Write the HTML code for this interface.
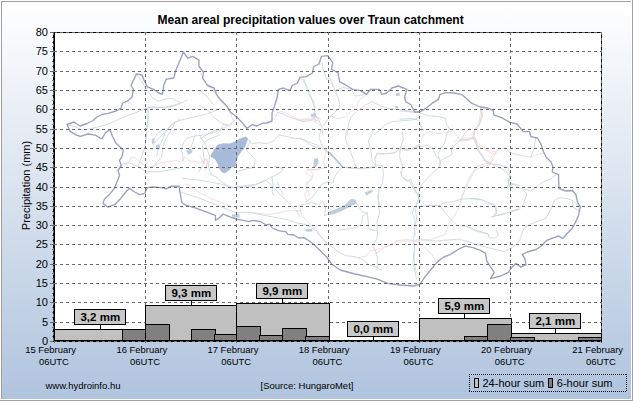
<!DOCTYPE html>
<html lang="en"><head><meta charset="utf-8"><title>Mean areal precipitation values over Traun catchment</title>
<style>
html,body{margin:0;padding:0;background:#fff;}
body{width:633px;height:401px;overflow:hidden;position:relative;font-family:"Liberation Sans",sans-serif;}
svg{position:absolute;left:0;top:0;display:block;}
text{font-family:"Liberation Sans",sans-serif;fill:#000;}
.t{font-size:12px;font-weight:bold;}
.yl{font-size:11px;text-anchor:end;}
.xl{font-size:9.45px;}
.ft{font-size:9.5px;}
.lg{font-size:11px;}
.vl{font-size:11.5px;font-weight:bold;text-anchor:middle;}
.ax{font-size:11px;text-anchor:middle;}
</style></head><body>
<svg width="633" height="401" viewBox="0 0 633 401">
<defs><linearGradient id="bg" x1="0" y1="0" x2="0" y2="1"><stop offset="0" stop-color="#ffffff"/><stop offset="1" stop-color="#b0c4de"/></linearGradient></defs>
<rect x="0" y="0" width="633" height="401" fill="#ffffff"/>
<rect x="2" y="2" width="629" height="397" fill="url(#bg)"/>
<rect x="1" y="1" width="630" height="1" fill="#a0a0a0"/>
<rect x="1" y="1" width="1" height="398" fill="#a0a0a0"/>
<rect x="631" y="0" width="1" height="400" fill="#ffffff"/>
<rect x="0" y="399" width="632" height="1" fill="#ffffff"/>
<rect x="632" y="0" width="1" height="401" fill="#a0a0a0"/>
<rect x="0" y="400" width="633" height="1" fill="#a0a0a0"/>
<rect x="54" y="32" width="548" height="309" fill="#ffffff"/>
<g id="map" fill="none" stroke-linejoin="round" stroke-linecap="round">
<path d="M120.9 166.4 L124.6 165.4 L128.4 163.5 L131.3 156.9 L135.1 157.8 L137.9 160.7 L143.6 164.5 L149.3 167.3 L155.0 165.4 L160.7 162.6 L168.2 161.6 L175.8 160.7 L181.5 161.6 L185.3 156.9 L189.1 160.7 L194.8 161.6 L200.5 162.6 L206.2 158.8 L208.1 164.5 L204.3 170.1 M200.9 73.3 L203.8 80.9 L208.5 86.5 L213.3 89.4 L217.1 97.0 L222.7 103.6 L228.4 109.3 L231.3 115.0 L233.2 120.7 L230.3 126.4 L222.7 124.5 L220.9 130.1 L217.1 133.9 M274.9 109.7 L281.5 111.2 L288.2 114.0 L294.8 117.8 L302.4 120.7 L310.0 118.8 L317.5 120.7 L320.0 121.6 M320.0 168.3 L313.7 170.2 L308.1 169.3 L306.2 173.1 L311.8 176.9 L308.1 182.6 L306.2 188.2 L310.0 195.1 M200.0 156.0 L203.8 163.6 L207.6 159.8 L205.7 169.3 M300.0 119.7 L307.6 118.8 L317.1 122.6 L320.9 126.4 M330.3 115.9 L337.9 118.8 L345.5 116.9 L351.2 111.2 L356.9 107.4 L358.8 100.8 L364.5 96.0 L370.1 91.3 L375.8 89.4 M374.9 158.4 L376.8 154.1 L385.3 154.1 L394.8 153.1 L400.5 148.4 L408.1 149.9 L413.7 149.0 L420.0 146.1 M342.7 167.3 L360.7 169.1 L373.9 167.3 M326.5 149.0 L325.6 154.6 L323.7 161.3 L324.6 167.9 L317.1 169.8 L307.6 168.9 L313.3 173.6 L311.4 180.2 L306.6 182.1 L307.6 190.7 L304.7 194.5 L306.6 201.1 M300.0 208.3 L301.9 215.9 L307.6 221.5 L315.2 229.1 L322.7 238.6 L328.4 244.3 M358.8 257.6 L366.4 255.7 L370.1 250.9 L375.8 250.0 L383.4 247.1 L391.0 245.2 L396.7 240.5 L406.2 239.5 L413.7 240.5 L420.0 241.4 M400.0 148.8 L407.6 150.7 L415.2 146.9 L420.9 144.0 L422.7 135.5 L428.4 131.7 L437.9 133.6 L447.4 132.7 L453.1 130.8 L456.9 135.5 L460.7 141.2 L468.2 140.2 L473.0 138.3 L473.0 130.8 L477.7 126.0 L479.6 118.4 L480.6 110.9 L484.4 109.0 M475.8 140.2 L481.5 145.9 L489.1 150.7 L496.7 151.6 L503.3 147.8 L510.0 152.6 L520.0 155.4 M496.7 151.6 L492.9 158.2 L489.1 165.1 M492.9 160.0 L489.1 164.7 L479.6 167.6 L473.9 171.4 L470.1 179.0 L466.4 186.5 L463.5 194.1 L460.7 200.8 L458.8 207.4 L455.0 215.0 L450.2 220.7 L447.4 228.2 L444.5 235.1 M480.3 107.6 L481.5 115.2 L479.0 125.3 L474.0 130.3 L472.7 137.9 L476.5 145.5 L485.3 149.3 L492.9 154.3 L498.0 149.3 L505.6 148.0 L510.6 153.1 L520.7 155.6 L530.8 156.9 L538.4 154.3 L543.5 153.1 M455.0 141.7 L465.1 137.9 L472.7 137.9 M492.9 154.3 L487.9 163.2 L477.8 165.7 L470.2 175.8 L465.1 188.5 L460.1 200.1 M250.8 212.6 L269.8 214.5 L288.7 210.7 L300.1 210.7 M186.4 184.1 L197.7 191.7 L212.9 199.3 L231.9 206.9 M444.4 234.9 L431.9 239.1 L416.7 241.0 L397.7 241.0 L382.6 248.6 L375.0 254.3 M416.7 241.0 L431.9 254.3 L435.7 261.8" stroke="#f5dde0" stroke-width="1"/>
<path d="M68.5 125.0 L75.2 126.9 L82.7 130.3 L90.3 128.8 L97.9 126.9 L105.5 125.0 L113.1 122.1 L120.7 118.3 L128.2 115.5 L135.8 112.7 L143.4 109.4 L149.1 107.9 L158.6 107.9 L166.2 107.0 L173.7 105.1 L180.0 103.2 M137.7 75.7 L141.5 81.4 L145.3 87.1 L149.1 92.7 L152.9 98.4 L158.6 101.3 L166.2 98.4 L171.8 98.4 L177.5 101.3 L180.0 102.2 M148.2 108.9 L148.2 113.6 L147.2 123.1 L146.3 132.6 L145.3 145.1 M180.0 119.3 L173.7 123.1 L168.1 128.8 L162.4 134.5 L156.7 140.1 L152.9 145.1 M145.5 108.5 L153.1 106.6 L162.6 107.6 L172.0 106.6 L179.6 103.8 L187.2 100.0 M147.4 108.5 L148.3 117.1 L147.4 124.6 L146.4 134.1 L145.5 143.6 L143.6 151.2 L140.8 158.8 L137.9 166.4 M220.0 108.5 L213.7 111.4 L206.2 114.2 L198.6 116.1 L189.1 118.0 L181.5 119.9 L173.9 122.7 L168.2 127.5 L164.5 134.1 L161.6 141.7 L158.8 147.4 L156.9 155.0 M164.5 128.4 L158.8 132.2 L155.0 137.0 L153.1 140.8 M174.9 122.7 L172.0 128.4 L168.2 135.1 L164.5 141.7 L162.6 149.3 L161.6 156.9 L156.9 162.6 L153.1 167.3 M220.0 130.3 L211.8 133.2 L202.4 135.1 L194.8 136.0 L187.2 137.9 L183.4 142.7 L181.5 149.3 L182.5 155.0 L183.4 160.7 M194.8 136.0 L192.9 141.7 L191.0 147.4 M220.0 135.1 L211.8 137.9 L206.2 140.8 L202.4 145.5 L203.3 153.1 L204.3 160.7 L202.4 166.4 L198.6 172.0 M115.2 172.0 L119.0 168.2 L120.9 164.5 L128.4 162.6 L137.9 166.4 L145.5 171.1 L156.9 172.0 L168.2 170.1 L179.6 168.2 M275.8 116.9 L277.7 112.1 L283.4 114.0 L289.1 116.9 L294.8 118.8 L302.4 121.6 L310.0 120.7 L315.6 116.9 L320.0 118.8 M303.3 79.9 L306.2 86.5 L309.0 94.1 L313.7 101.7 L314.7 109.3 L313.7 115.0 L315.6 120.7 M200.0 90.3 L205.7 95.1 L209.5 99.8 L213.3 104.5 M200.0 105.5 L207.6 110.2 L213.3 116.9 L220.9 122.6 L228.4 125.4 M247.4 139.0 L252.1 143.7 L258.8 142.7 L266.4 143.7 L273.9 140.9 L278.7 135.2 L285.3 136.1 L292.9 138.0 L302.4 139.0 L310.0 144.6 L315.6 147.5 L320.0 148.4 M200.0 139.0 L207.6 134.2 L215.2 130.4 L224.6 127.6 L232.2 122.8 L235.1 120.0 M250.2 140.9 L246.4 150.3 L251.2 155.1 L255.0 159.8 L254.0 167.4 L245.5 169.3 L237.9 171.2 M216.1 176.9 L222.7 182.6 L230.3 188.2 L237.9 186.4 L247.4 185.4 L256.9 184.5 L264.5 180.7 L272.0 176.9 L279.6 173.1 L283.4 169.3 L279.6 167.4 L273.9 166.4 M272.0 176.9 L273.0 184.5 L272.0 192.0 L273.9 195.1 M277.7 182.6 L279.6 188.2 L283.4 195.1 M200.0 136.1 L205.7 144.6 L209.5 156.0 L208.5 167.4 L211.4 175.0 L216.1 176.9 M303.8 79.0 L307.6 88.4 L311.4 97.9 L314.2 107.4 L315.2 115.0 L319.0 120.7 L321.8 126.4 L322.7 135.1 M321.8 61.9 L323.7 71.4 L326.5 79.0 L330.3 79.0 L335.1 90.3 L338.9 99.8 L339.8 107.4 L334.1 113.1 L328.4 118.8 L323.7 125.4 M335.1 90.3 L343.6 87.5 L351.2 89.4 L355.0 96.0 L362.6 95.1 L365.4 92.2 M347.4 135.1 L348.3 124.5 L351.2 116.9 L356.9 111.2 L364.5 105.5 L372.0 101.7 L379.6 105.5 L387.2 108.3 L394.8 109.3 L404.3 110.2 L413.7 112.1 L420.0 111.2 M373.9 135.1 L379.6 130.1 L385.3 124.5 L392.9 121.6 L402.4 120.7 L413.7 119.7 L420.0 116.9 M320.9 130.0 L319.0 137.6 L321.8 145.2 L326.5 150.9 M300.0 138.5 L307.6 141.4 L317.1 145.2 L326.5 150.9 L332.2 156.5 L337.9 162.2 L342.7 167.0 L349.3 167.9 L360.7 168.5 L372.0 167.0 L377.7 165.1 L382.5 166.0 L383.4 173.6 L382.5 183.1 L378.7 190.7 L378.1 198.2 L379.6 205.1 M346.4 130.0 L345.5 139.5 L349.3 149.0 L353.1 158.4 L355.9 167.0 M373.9 130.0 L368.2 141.4 L371.1 150.9 L372.0 160.3 L375.8 166.0 M375.8 165.1 L374.9 158.4 L376.8 153.7 L385.3 153.7 L394.8 152.7 L400.5 148.0 L408.1 149.0 L413.7 148.0 L420.0 145.2 M402.4 131.9 L403.3 139.5 L400.5 147.1 L399.5 156.5 L402.4 166.0 L401.4 175.5 L406.2 181.2 L410.9 179.3 L413.7 186.9 L417.5 194.5 L420.0 200.1 M342.7 167.0 L337.9 171.7 L334.1 177.4 L333.2 183.1 L326.5 182.1 L320.9 185.0 L317.1 190.7 L311.4 198.2 L305.7 202.0 M377.7 195.0 L378.7 204.5 L379.6 214.0 L376.8 221.5 L377.7 231.0 L376.8 238.6 L373.0 245.2 L375.8 251.9 L377.7 259.5 L376.8 270.1 M356.5 203.5 L362.6 212.1 L367.3 213.0 L368.2 221.5 L369.2 229.1 L376.8 231.0 M337.9 230.1 L347.4 229.1 L356.9 227.2 L361.6 223.4 L362.6 215.9 L367.3 213.0 M328.4 214.0 L324.6 215.9 L325.6 206.4 L322.7 201.6 L319.0 204.5 L311.4 202.6 L300.0 205.4 M300.0 223.4 L307.6 225.3 L315.2 230.1 L320.9 236.7 L326.5 243.3 L334.1 248.1 L337.9 251.9 L345.5 255.7 L355.0 256.6 L362.6 259.5 L368.2 264.2 L375.8 267.0 L381.5 270.1 M417.5 200.7 L415.6 210.2 L416.6 219.6 L414.7 229.1 L413.7 238.6 L414.7 248.1 L413.7 257.6 L415.6 270.1 M400.0 110.9 L409.5 111.8 L419.0 112.7 L428.4 115.6 L437.9 116.5 L445.5 118.4 L446.4 124.1 L449.3 128.9 M400.0 119.4 L411.4 118.4 L419.0 120.3 L420.9 126.0 L423.7 130.8 M449.3 128.9 L446.4 135.5 L444.5 143.1 L440.8 148.8 L437.9 154.5 L440.8 165.1 M470.1 127.9 L464.5 133.6 L460.7 140.2 L455.0 145.0 L451.2 148.8 L452.1 154.5 L446.4 157.3 L441.7 160.1 M481.5 109.0 L482.5 116.5 L479.6 124.1 L474.9 129.8 L473.9 137.4 L475.8 143.1 L477.7 150.7 L483.4 158.2 L489.1 163.9 M460.7 140.2 L468.2 139.3 L473.9 137.4 M419.0 146.9 L426.5 145.0 L433.2 148.8 L436.0 156.4 L439.8 159.2 M440.8 160.0 L438.9 167.6 L432.2 173.3 L426.5 179.0 L421.8 184.6 L419.9 189.4 L418.0 195.1 L419.0 201.7 L414.2 207.4 L412.3 213.1 L415.2 220.7 L414.2 228.2 L415.2 235.1 M400.0 171.4 L403.8 179.0 L409.5 180.9 L413.3 188.4 L417.1 194.1 M419.0 206.4 L428.4 205.5 L439.8 205.5 L443.6 202.7 L453.1 201.7 L462.6 198.9 L472.0 198.9 L481.5 199.8 L489.1 202.7 L495.7 205.5 L496.7 211.2 L494.8 214.0 M439.8 205.5 L445.5 213.1 L451.2 219.7 L456.9 225.4 L466.4 226.4 L475.8 230.1 L485.3 233.0 L489.1 235.1 M491.0 216.9 L498.6 215.0 L506.2 213.1 L513.7 211.2 L520.0 209.3 M483.4 160.0 L489.1 163.8 L498.6 164.7 L508.1 167.6 L510.0 175.2 L508.1 184.6 L507.1 188.4 L513.7 183.7 L520.0 185.6 M470.0 198.5 L477.6 198.5 L483.3 200.4 L487.1 204.2 L493.7 204.2 L495.6 209.0 L496.5 213.7 L492.7 216.5 L502.2 214.6 L509.8 211.8 L517.4 209.0 L523.1 205.2 L525.0 199.5 L526.9 193.8 L523.1 190.0 M470.0 227.9 L475.7 230.8 L481.4 232.7 L488.0 233.6 L489.0 237.4 L494.6 238.3 L498.4 235.5 L496.5 230.8 M470.0 242.1 L477.6 245.0 L485.2 246.9 L492.7 248.8 L500.3 250.7 L504.1 251.6 L509.8 248.8 L515.5 245.0 L520.2 239.3 L522.1 232.7 L524.0 227.9 L530.7 224.1 L538.2 221.3 L545.8 218.4 L549.6 211.8 L552.5 205.2 L554.4 200.4 L559.1 197.6 L566.7 198.5 L572.4 200.4 L578.1 205.2 L580.0 210.9 M572.4 200.4 L573.3 207.1 L579.0 210.9 M475.2 137.9 L479.0 150.6 L485.3 160.7 L495.4 165.7 L505.6 170.8 L509.3 175.8 L508.1 185.9 L511.9 183.4 L520.7 188.5 L530.8 191.0 L540.9 183.4 L551.1 178.4 L556.1 174.6 M535.9 137.9 L533.4 150.6 L530.8 156.9 M178.8 191.7 L197.7 197.4 L216.7 205.0 L235.7 212.6 L250.8 212.6 L269.8 216.4 L288.7 220.1 L300.1 223.9 M235.7 187.9 L250.8 186.0 L266.0 180.3 L273.6 187.9 L285.0 199.3 L296.3 210.7 L300.1 216.4 M182.6 178.4 L201.5 180.3 L220.5 184.1 L235.7 187.9 M414.8 244.8 L412.9 263.7 L416.7 278.9 M416.7 239.1 L435.7 241.0 L458.4 239.1 L469.8 242.1" stroke="#c9d4dc" stroke-width="0.85"/>
<path d="M328.4 151.8 L333.2 156.5 L337.9 161.8 L342.7 167.0" stroke="#b4bfd4" stroke-width="1.6"/>
<path d="M151.6 138.9 L154.0 137.9 L154.6 142.7 L152.1 144.0 Z M155.9 145.5 L159.1 144.0 L160.3 148.3 L156.9 149.7 Z M186.3 150.2 L191.0 148.3 L192.9 152.1 L188.2 155.0 Z M310.9 114.0 L315.6 113.1 L316.6 116.9 L311.8 117.3 Z M313.7 158.9 L317.5 157.9 L318.5 160.8 L316.6 166.4 L313.4 166.4 Z M395.7 93.2 L399.5 92.2 L400.1 95.6 L396.3 96.0 Z M395.2 106.1 L398.2 106.1 L398.2 108.3 L395.4 108.3 Z M310.4 114.0 L315.2 113.5 L316.1 116.5 L311.4 116.9 Z M314.2 159.4 L318.0 158.4 L318.6 162.2 L316.1 167.0 L313.3 167.0 Z M364.5 192.6 L372.0 189.7 L373.0 191.6 L366.4 195.4 Z M328.4 212.1 L337.9 208.3 L345.5 204.5 L351.2 198.8 L355.9 199.7 L356.5 203.5 L349.3 207.3 L341.7 211.1 L334.1 214.0 L328.4 214.9 Z M305.7 229.1 L312.3 229.1 L312.3 231.4 L305.7 231.4 Z M231.9 214.5 L239.5 213.7 L239.5 217.5 L232.6 218.2 Z" fill="#bfcde3" stroke="none"/>
<path d="M67.0 124.5 L74.0 122.0 L80.0 126.0 L87.0 123.5 L93.0 120.5 L97.0 117.0 L102.0 114.5 L108.0 113.3 L116.0 111.0 L121.0 108.0 L122.7 103.0 L128.0 100.7 L132.0 97.0 L133.4 89.3 L131.0 85.5 L133.4 80.4 L136.4 74.0 L142.0 75.0 L144.7 81.7 L147.3 86.8 L153.6 89.3 L158.6 93.0 L162.4 94.3 L163.7 85.5 L166.2 79.2 L173.8 78.0 L175.8 70.3 L179.0 62.7 L183.4 52.0 L187.7 58.2 L192.8 56.4 L199.0 60.2 L199.0 66.5 L203.5 72.0 L202.6 78.0 L207.6 85.5 L214.0 88.0 L216.5 94.3 L220.3 99.4 L226.6 105.7 L230.4 112.0 L236.7 117.0 L241.8 122.2 L246.8 128.5 L252.0 124.7 L257.0 126.0 L262.0 123.4 L267.0 123.0 L272.0 121.0 L272.0 113.3 L274.6 105.7 L277.2 97.0 L278.4 89.3 L283.5 88.0 L289.8 90.6 L292.3 85.5 L297.4 83.0 L300.0 77.4 L306.2 76.7 L312.5 73.0 L313.8 66.5 L319.0 64.0 L321.4 56.4 L327.7 55.7 L332.8 62.7 L331.5 69.0 L338.0 72.9 L339.6 81.7 L346.4 85.5 L352.7 89.3 L360.3 90.6 L366.6 94.3 L370.4 89.3 L379.2 89.3 L381.8 94.3 L386.8 93.0 L392.0 88.0 L398.2 86.0 L407.0 89.3 L404.5 97.0 L405.8 102.0 L410.8 104.5 L414.6 112.0 L419.7 112.0 L426.0 108.3 L432.3 103.2 L438.6 99.4 L440.0 94.3 L446.2 92.6 L453.8 93.0 L461.4 94.3 L467.7 99.4 L471.5 103.2 L480.3 107.0 L488.0 108.0 L493.0 110.5 L494.2 115.2 L501.8 117.7 L509.3 122.2 L517.0 124.0 L523.2 131.6 L529.6 131.6 L530.8 136.7 L537.2 138.0 L541.0 144.2 L543.5 151.8 L546.0 157.0 L551.0 162.0 L553.0 167.0 L552.3 172.0 L558.6 174.6 L558.6 181.0 L559.0 188.5 L566.0 191.0 L572.5 190.5 L576.0 195.0 L577.8 202.8 L580.3 206.5 L578.5 215.4 L575.2 223.0 L571.4 229.3 L566.4 234.3 L562.6 238.6 L558.8 236.0 L553.8 237.6 L546.2 240.7 L541.0 246.2 L536.0 249.5 L527.2 252.0 L522.2 254.6 L524.7 258.4 L526.0 264.7 L521.0 267.2 L515.8 263.4 L512.0 267.2 L508.3 272.3 L500.7 276.0 L490.6 278.6 L494.3 272.3 L490.6 267.2 L486.8 261.0 L485.5 253.3 L480.4 250.3 L473.0 247.7 L465.3 246.2 L460.2 248.3 L450.0 254.6 L443.9 257.0 L437.5 261.6 L431.2 269.2 L425.0 276.8 L419.8 284.3 L413.5 286.0 L401.0 285.0 L388.2 283.6 L378.0 279.3 L368.0 276.8 L353.0 273.5 L340.2 270.0 L331.5 264.0 L326.7 257.0 L320.3 250.8 L314.0 244.5 L309.0 240.7 L304.0 237.6 L299.0 238.0 L293.8 235.0 L287.5 234.3 L286.2 231.8 L278.6 230.6 L272.3 228.0 L269.8 224.2 L266.0 225.0 L261.0 221.7 L253.4 220.4 L248.3 221.7 L243.3 220.4 L235.7 219.2 L229.3 216.7 L223.0 214.0 L219.2 218.0 L215.4 220.4 L215.4 215.4 L205.3 211.6 L195.2 207.8 L186.4 205.3 L182.0 203.0 L180.5 195.0 L179.0 186.2 L171.3 186.2 L166.2 188.8 L161.2 187.7 L153.6 187.0 L147.3 187.7 L144.7 193.3 L139.7 194.6 L134.6 192.0 L129.6 188.3 L125.8 192.0 L120.7 198.4 L114.4 204.7 L108.0 207.2 L103.0 203.4 L104.3 199.6 L109.3 194.6 L114.4 188.3 L117.0 182.0 L119.5 175.6 L118.2 170.6 L121.2 165.5 L119.5 160.4 L122.0 156.7 L123.3 150.3 L119.5 146.5 L115.7 142.8 L112.0 135.2 L110.0 129.6 L105.6 132.6 L101.8 139.0 L95.4 135.2 L88.0 134.0 L80.3 136.4 L76.5 135.2 L70.2 131.4 Z" stroke="#9aa0c2" stroke-width="1.35"/>
<path d="M210.0 155.9 L214.4 149.2 L217.4 144.7 L223.4 143.2 L230.1 143.6 L234.6 141.7 L239.1 139.1 L245.8 136.4 L248.1 138.7 L246.6 142.4 L245.1 146.9 L241.4 151.4 L238.4 155.9 L236.9 160.4 L236.1 164.9 L234.6 167.1 L231.6 167.6 L228.6 170.8 L224.2 173.5 L221.2 171.6 L218.9 167.9 L217.4 163.4 L215.2 159.6 L212.2 157.4 Z" fill="#a9bbda" stroke="none"/>
</g>
<rect x="54" y="32" width="548" height="1" fill="#000"/>
<rect x="601" y="32" width="1" height="310" fill="#000"/>
<line x1="54" y1="322.5" x2="601" y2="322.5" stroke="#696969" stroke-width="1" stroke-dasharray="3 3"/>
<line x1="54" y1="302.5" x2="601" y2="302.5" stroke="#696969" stroke-width="1" stroke-dasharray="3 3"/>
<line x1="54" y1="283.5" x2="601" y2="283.5" stroke="#696969" stroke-width="1" stroke-dasharray="3 3"/>
<line x1="54" y1="264.5" x2="601" y2="264.5" stroke="#696969" stroke-width="1" stroke-dasharray="3 3"/>
<line x1="54" y1="244.5" x2="601" y2="244.5" stroke="#696969" stroke-width="1" stroke-dasharray="3 3"/>
<line x1="54" y1="225.5" x2="601" y2="225.5" stroke="#696969" stroke-width="1" stroke-dasharray="3 3"/>
<line x1="54" y1="206.5" x2="601" y2="206.5" stroke="#696969" stroke-width="1" stroke-dasharray="3 3"/>
<line x1="54" y1="187.5" x2="601" y2="187.5" stroke="#696969" stroke-width="1" stroke-dasharray="3 3"/>
<line x1="54" y1="167.5" x2="601" y2="167.5" stroke="#696969" stroke-width="1" stroke-dasharray="3 3"/>
<line x1="54" y1="148.5" x2="601" y2="148.5" stroke="#696969" stroke-width="1" stroke-dasharray="3 3"/>
<line x1="54" y1="129.5" x2="601" y2="129.5" stroke="#696969" stroke-width="1" stroke-dasharray="3 3"/>
<line x1="54" y1="109.5" x2="601" y2="109.5" stroke="#696969" stroke-width="1" stroke-dasharray="3 3"/>
<line x1="54" y1="90.5" x2="601" y2="90.5" stroke="#696969" stroke-width="1" stroke-dasharray="3 3"/>
<line x1="54" y1="71.5" x2="601" y2="71.5" stroke="#696969" stroke-width="1" stroke-dasharray="3 3"/>
<line x1="54" y1="51.5" x2="601" y2="51.5" stroke="#696969" stroke-width="1" stroke-dasharray="3 3"/>
<line x1="54" y1="32.5" x2="601" y2="32.5" stroke="#696969" stroke-width="1" stroke-dasharray="3 3"/>
<line x1="145.5" y1="32" x2="145.5" y2="341" stroke="#696969" stroke-width="1" stroke-dasharray="3 3"/>
<line x1="236.5" y1="32" x2="236.5" y2="341" stroke="#696969" stroke-width="1" stroke-dasharray="3 3"/>
<line x1="328.5" y1="32" x2="328.5" y2="341" stroke="#696969" stroke-width="1" stroke-dasharray="3 3"/>
<line x1="419.5" y1="32" x2="419.5" y2="341" stroke="#696969" stroke-width="1" stroke-dasharray="3 3"/>
<line x1="510.5" y1="32" x2="510.5" y2="341" stroke="#696969" stroke-width="1" stroke-dasharray="3 3"/>
<line x1="601.5" y1="32" x2="601.5" y2="341" stroke="#696969" stroke-width="1" stroke-dasharray="3 3"/>
<rect x="54.5" y="329.5" width="92" height="11" fill="#c0c0c0" stroke="#000" stroke-width="1"/>
<rect x="145.5" y="305.5" width="92" height="35" fill="#c0c0c0" stroke="#000" stroke-width="1"/>
<rect x="236.5" y="303.5" width="93" height="37" fill="#c0c0c0" stroke="#000" stroke-width="1"/>
<rect x="419.5" y="318.5" width="92" height="22" fill="#c0c0c0" stroke="#000" stroke-width="1"/>
<rect x="510.5" y="333.5" width="91" height="7" fill="#c0c0c0" stroke="#000" stroke-width="1"/>
<rect x="122.5" y="329.5" width="24" height="11" fill="#808080" stroke="#000" stroke-width="1"/>
<rect x="145.5" y="324.5" width="24" height="16" fill="#808080" stroke="#000" stroke-width="1"/>
<rect x="191.5" y="329.5" width="24" height="11" fill="#808080" stroke="#000" stroke-width="1"/>
<rect x="214.5" y="334.5" width="23" height="6" fill="#808080" stroke="#000" stroke-width="1"/>
<rect x="236.5" y="326.5" width="24" height="14" fill="#808080" stroke="#000" stroke-width="1"/>
<rect x="259.5" y="335.5" width="24" height="5" fill="#808080" stroke="#000" stroke-width="1"/>
<rect x="282.5" y="328.5" width="24" height="12" fill="#808080" stroke="#000" stroke-width="1"/>
<rect x="305.5" y="336.5" width="24" height="4" fill="#808080" stroke="#000" stroke-width="1"/>
<rect x="464.5" y="336.5" width="24" height="4" fill="#808080" stroke="#000" stroke-width="1"/>
<rect x="487.5" y="324.5" width="24" height="16" fill="#808080" stroke="#000" stroke-width="1"/>
<rect x="510.5" y="337.5" width="24" height="3" fill="#808080" stroke="#000" stroke-width="1"/>
<rect x="578.5" y="337.5" width="23" height="3" fill="#808080" stroke="#000" stroke-width="1"/>
<rect x="53" y="32" width="2" height="310" fill="#000"/>
<rect x="53" y="340" width="549" height="1" fill="#000"/>
<rect x="53" y="341" width="549" height="1" fill="#000"/>
<line x1="54" y1="341.5" x2="601" y2="341.5" stroke="#696969" stroke-width="1" stroke-dasharray="3 3"/>
<line x1="53.5" y1="32" x2="53.5" y2="341" stroke="#696969" stroke-width="1" stroke-dasharray="3 3"/>
<rect x="50" y="341" width="3" height="1" fill="#696969"/>
<text class="yl" x="48" y="345">0</text>
<rect x="50" y="322" width="5" height="1" fill="#696969"/>
<text class="yl" x="48" y="326">5</text>
<rect x="50" y="302" width="5" height="1" fill="#696969"/>
<text class="yl" x="48" y="306">10</text>
<rect x="50" y="283" width="5" height="1" fill="#696969"/>
<text class="yl" x="48" y="287">15</text>
<rect x="50" y="264" width="5" height="1" fill="#696969"/>
<text class="yl" x="48" y="268">20</text>
<rect x="50" y="244" width="5" height="1" fill="#696969"/>
<text class="yl" x="48" y="248">25</text>
<rect x="50" y="225" width="5" height="1" fill="#696969"/>
<text class="yl" x="48" y="229">30</text>
<rect x="50" y="206" width="5" height="1" fill="#696969"/>
<text class="yl" x="48" y="210">35</text>
<rect x="50" y="187" width="5" height="1" fill="#696969"/>
<text class="yl" x="48" y="191">40</text>
<rect x="50" y="167" width="5" height="1" fill="#696969"/>
<text class="yl" x="48" y="171">45</text>
<rect x="50" y="148" width="5" height="1" fill="#696969"/>
<text class="yl" x="48" y="152">50</text>
<rect x="50" y="129" width="5" height="1" fill="#696969"/>
<text class="yl" x="48" y="133">55</text>
<rect x="50" y="109" width="5" height="1" fill="#696969"/>
<text class="yl" x="48" y="113">60</text>
<rect x="50" y="90" width="5" height="1" fill="#696969"/>
<text class="yl" x="48" y="94">65</text>
<rect x="50" y="71" width="5" height="1" fill="#696969"/>
<text class="yl" x="48" y="75">70</text>
<rect x="50" y="51" width="5" height="1" fill="#696969"/>
<text class="yl" x="48" y="55">75</text>
<rect x="50" y="32" width="3" height="1" fill="#696969"/>
<text class="yl" x="48" y="36">80</text>
<rect x="52" y="336" width="1" height="1" fill="#808080"/>
<rect x="52" y="331" width="1" height="1" fill="#808080"/>
<rect x="52" y="327" width="1" height="1" fill="#808080"/>
<rect x="52" y="317" width="1" height="1" fill="#808080"/>
<rect x="52" y="312" width="1" height="1" fill="#808080"/>
<rect x="52" y="307" width="1" height="1" fill="#808080"/>
<rect x="52" y="298" width="1" height="1" fill="#808080"/>
<rect x="52" y="293" width="1" height="1" fill="#808080"/>
<rect x="52" y="288" width="1" height="1" fill="#808080"/>
<rect x="52" y="278" width="1" height="1" fill="#808080"/>
<rect x="52" y="273" width="1" height="1" fill="#808080"/>
<rect x="52" y="269" width="1" height="1" fill="#808080"/>
<rect x="52" y="259" width="1" height="1" fill="#808080"/>
<rect x="52" y="254" width="1" height="1" fill="#808080"/>
<rect x="52" y="249" width="1" height="1" fill="#808080"/>
<rect x="52" y="240" width="1" height="1" fill="#808080"/>
<rect x="52" y="235" width="1" height="1" fill="#808080"/>
<rect x="52" y="230" width="1" height="1" fill="#808080"/>
<rect x="52" y="220" width="1" height="1" fill="#808080"/>
<rect x="52" y="215" width="1" height="1" fill="#808080"/>
<rect x="52" y="211" width="1" height="1" fill="#808080"/>
<rect x="52" y="201" width="1" height="1" fill="#808080"/>
<rect x="52" y="196" width="1" height="1" fill="#808080"/>
<rect x="52" y="191" width="1" height="1" fill="#808080"/>
<rect x="52" y="182" width="1" height="1" fill="#808080"/>
<rect x="52" y="177" width="1" height="1" fill="#808080"/>
<rect x="52" y="172" width="1" height="1" fill="#808080"/>
<rect x="52" y="162" width="1" height="1" fill="#808080"/>
<rect x="52" y="158" width="1" height="1" fill="#808080"/>
<rect x="52" y="153" width="1" height="1" fill="#808080"/>
<rect x="52" y="143" width="1" height="1" fill="#808080"/>
<rect x="52" y="138" width="1" height="1" fill="#808080"/>
<rect x="52" y="133" width="1" height="1" fill="#808080"/>
<rect x="52" y="124" width="1" height="1" fill="#808080"/>
<rect x="52" y="119" width="1" height="1" fill="#808080"/>
<rect x="52" y="114" width="1" height="1" fill="#808080"/>
<rect x="52" y="104" width="1" height="1" fill="#808080"/>
<rect x="52" y="100" width="1" height="1" fill="#808080"/>
<rect x="52" y="95" width="1" height="1" fill="#808080"/>
<rect x="52" y="85" width="1" height="1" fill="#808080"/>
<rect x="52" y="80" width="1" height="1" fill="#808080"/>
<rect x="52" y="75" width="1" height="1" fill="#808080"/>
<rect x="52" y="66" width="1" height="1" fill="#808080"/>
<rect x="52" y="61" width="1" height="1" fill="#808080"/>
<rect x="52" y="56" width="1" height="1" fill="#808080"/>
<rect x="52" y="46" width="1" height="1" fill="#808080"/>
<rect x="52" y="42" width="1" height="1" fill="#808080"/>
<rect x="52" y="37" width="1" height="1" fill="#808080"/>
<rect x="54" y="342" width="1" height="1" fill="#606060"/>
<rect x="145" y="342" width="1" height="1" fill="#606060"/>
<rect x="236" y="342" width="1" height="1" fill="#606060"/>
<rect x="328" y="342" width="1" height="1" fill="#606060"/>
<rect x="419" y="342" width="1" height="1" fill="#606060"/>
<rect x="510" y="342" width="1" height="1" fill="#606060"/>
<rect x="601" y="342" width="1" height="1" fill="#606060"/>
<rect x="74.5" y="309.5" width="51" height="15" fill="#c8c8c8" stroke="#000" stroke-width="1"/>
<rect x="100" y="325" width="1" height="4" fill="#000"/>
<text class="vl" x="100.3" y="321">3,2 mm</text>
<rect x="165.5" y="285.5" width="51" height="15" fill="#c8c8c8" stroke="#000" stroke-width="1"/>
<rect x="191" y="301" width="1" height="4" fill="#000"/>
<text class="vl" x="191.3" y="297">9,3 mm</text>
<rect x="256.5" y="283.5" width="51" height="15" fill="#c8c8c8" stroke="#000" stroke-width="1"/>
<rect x="282" y="299" width="1" height="4" fill="#000"/>
<text class="vl" x="282.3" y="295">9,9 mm</text>
<rect x="347.5" y="321.5" width="51" height="15" fill="#c8c8c8" stroke="#000" stroke-width="1"/>
<rect x="373" y="337" width="1" height="4" fill="#000"/>
<text class="vl" x="373.3" y="333">0,0 mm</text>
<rect x="438.5" y="298.5" width="51" height="15" fill="#c8c8c8" stroke="#000" stroke-width="1"/>
<rect x="464" y="314" width="1" height="4" fill="#000"/>
<text class="vl" x="464.3" y="310">5,9 mm</text>
<rect x="529.5" y="313.5" width="51" height="15" fill="#c8c8c8" stroke="#000" stroke-width="1"/>
<rect x="555" y="329" width="1" height="4" fill="#000"/>
<text class="vl" x="555.3" y="325">2,1 mm</text>
<text class="t" x="157.6" y="24">Mean areal precipitation values over Traun catchment</text>
<text class="ax" transform="translate(30,185.5) rotate(-90)">Precipitation (mm)</text>
<text class="xl" x="25.2" y="353">15 February</text>
<text class="xl" x="38.9" y="364.6">06UTC</text>
<text class="xl" x="116.4" y="353">16 February</text>
<text class="xl" x="130.1" y="364.6">06UTC</text>
<text class="xl" x="207.5" y="353">17 February</text>
<text class="xl" x="221.2" y="364.6">06UTC</text>
<text class="xl" x="298.7" y="353">18 February</text>
<text class="xl" x="312.4" y="364.6">06UTC</text>
<text class="xl" x="389.9" y="353">19 February</text>
<text class="xl" x="403.6" y="364.6">06UTC</text>
<text class="xl" x="481.0" y="353">20 February</text>
<text class="xl" x="494.7" y="364.6">06UTC</text>
<text class="xl" x="572.2" y="353">21 February</text>
<text class="xl" x="585.9" y="364.6">06UTC</text>
<text class="ft" x="45.5" y="389">www.hydroinfo.hu</text>
<text class="ft" x="260.5" y="389">[Source: HungaroMet]</text>
<path d="M469 374.5H627M469 391.5H627M469.5 374V392M626.5 374V392" fill="none" stroke="#000" stroke-width="1" stroke-dasharray="1 1"/>
<rect x="474.5" y="378.5" width="4" height="9" fill="#c0c0c0" stroke="#000" stroke-width="1"/>
<text class="lg" x="482.5" y="387">24-hour sum</text>
<rect x="548.5" y="378.5" width="4" height="9" fill="#808080" stroke="#000" stroke-width="1"/>
<text class="lg" x="556.8" y="387">6-hour sum</text>
</svg>
</body></html>
